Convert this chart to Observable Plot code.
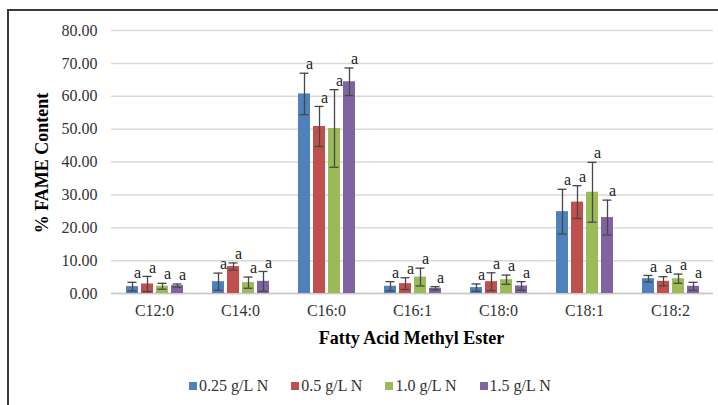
<!DOCTYPE html>
<html><head><meta charset="utf-8">
<script src="https://cdn.jsdelivr.net/npm/d3@7"></script>
<script src="https://cdn.jsdelivr.net/npm/@observablehq/plot@0.6"></script>
<style>
html,body{margin:0;padding:0;background:#fff;width:718px;height:405px;overflow:hidden;}
#frame{position:absolute;left:7px;top:9px;width:800px;height:500px;border-left:2px solid #3a3a3a;border-top:2px solid #3a3a3a;}
#chart{position:absolute;left:0;top:0;}
.serif{font-family:'Liberation Serif';}
.title{position:absolute;font-weight:bold;font-size:18px;color:#000;white-space:nowrap;}
#xtitle{left:110px;width:603px;text-align:center;top:328px;}
#ytitle{left:42px;top:163px;transform:translate(-50%,-50%) rotate(-90deg);}
#legend{position:absolute;top:377px;left:189px;display:flex;font-size:16px;color:#333;}
#legend .item{display:flex;align-items:center;margin-right:23px;}
#legend .sw{width:8px;height:8px;margin-right:2px;}
#chart svg, #chart svg text{font-family:'Liberation Serif' !important;}
</style>
</head><body>
<div id="frame"></div>
<div id="chart"></div>
<div id="xtitle" class="title serif"></div>
<div id="ytitle" class="title serif"></div>
<div id="legend" class="serif"></div>
<script>
const categories = ["C12:0","C14:0","C16:0","C16:1","C18:0","C18:1","C18:2"];
const series = ["0.25 g/L N","0.5 g/L N","1.0 g/L N","1.5 g/L N"];
const colors = ["#4F81BD","#C0504D","#9BBB59","#8064A2"];
const v025 = [2.1, 3.6, 60.7, 2.2, 1.8, 24.9, 4.5];
const e025 = [1.3, 2.6, 6.3, 1.4, 1.1, 6.8, 1.0];
const v05  = [2.9, 8.2, 50.8, 3.0, 3.6, 27.8, 3.7];
const e05  = [2.3, 1.1, 6.1, 1.8, 2.7, 5.0, 1.4];
const v10  = [2.2, 3.3, 50.2, 5.0, 4.2, 30.8, 4.5];
const e10  = [0.9, 1.7, 11.8, 2.7, 1.4, 9.1, 1.4];
const v15  = [2.4, 3.7, 64.4, 1.6, 2.3, 23.1, 2.2];
const e15  = [0.5, 3.0, 4.2, 0.5, 1.3, 5.3, 1.2];
const sigLabels = ["a","a","a","a","a","a","a"];
const yTicks = [0,10,20,30,40,50,60,70,80];
const xTitle = "Fatty Acid Methyl Ester";
const yTitle = "% FAME Content";

const vals = [v025, v05, v10, v15];
const errs = [e025, e05, e10, e15];
const rows = [];
categories.forEach((c, i) => series.forEach((s, j) => rows.push({cat: c, series: s, v: vals[j][i], e: errs[j][i], lab: sigLabels[i]})));

const plot = Plot.plot({
  width: 718, height: 350,
  marginLeft: 110, marginRight: 5, marginTop: 30, marginBottom: 57,
  style: {fontFamily: "Liberation Serif", fontSize: "16px", color: "#333", background: "transparent"},
  fx: {domain: categories, padding: 0, label: null},
  x: {domain: series, paddingInner: 0.22, paddingOuter: 0.888, axis: null},
  y: {domain: [0, 80], label: null},
  color: {domain: series, range: colors},
  marks: [
    Plot.gridY(yTicks, {stroke: "#d9d9d9", strokeOpacity: 1, strokeWidth: 1.5}),
    Plot.ruleY([0], {stroke: "#c8c8c8", strokeWidth: 1.5}),
    Plot.barY(rows, {fx: "cat", x: "series", y: "v", fill: "series"}),
    Plot.ruleX(rows, {fx: "cat", x: "series", y1: d => d.v - d.e, y2: d => d.v + d.e, stroke: "#474747", strokeWidth: 1.3}),
    Plot.tickY(rows, {fx: "cat", x: "series", y: d => d.v + d.e, stroke: "#474747", strokeWidth: 1.3, insetLeft: 1.5, insetRight: 1.5}),
    Plot.tickY(rows, {fx: "cat", x: "series", y: d => d.v - d.e, stroke: "#474747", strokeWidth: 1.3, insetLeft: 1.5, insetRight: 1.5}),
    Plot.text(rows, {fx: "cat", x: "series", y: d => d.v + d.e, text: "lab", dx: 5, dy: -9, fontSize: 16, fill: "#222"}),
    Plot.axisY(yTicks, {tickFormat: d => d.toFixed(2), tickSize: 0, tickPadding: 14, label: null, fontSize: 16}),
    Plot.axisFx({anchor: "bottom", tickSize: 0, tickPadding: 11, label: null, fontSize: 16})
  ]
});
document.getElementById("chart").appendChild(plot);
document.getElementById("xtitle").textContent = xTitle;
document.getElementById("ytitle").textContent = yTitle;

const color = plot.scale("color");
const leg = d3.select("#legend");
color.domain.forEach((s, i) => {
  const it = leg.append("div").attr("class", "item");
  it.append("div").attr("class", "sw").style("background", color.range[i]);
  it.append("span").text(s);
});
</script>
</body></html>
